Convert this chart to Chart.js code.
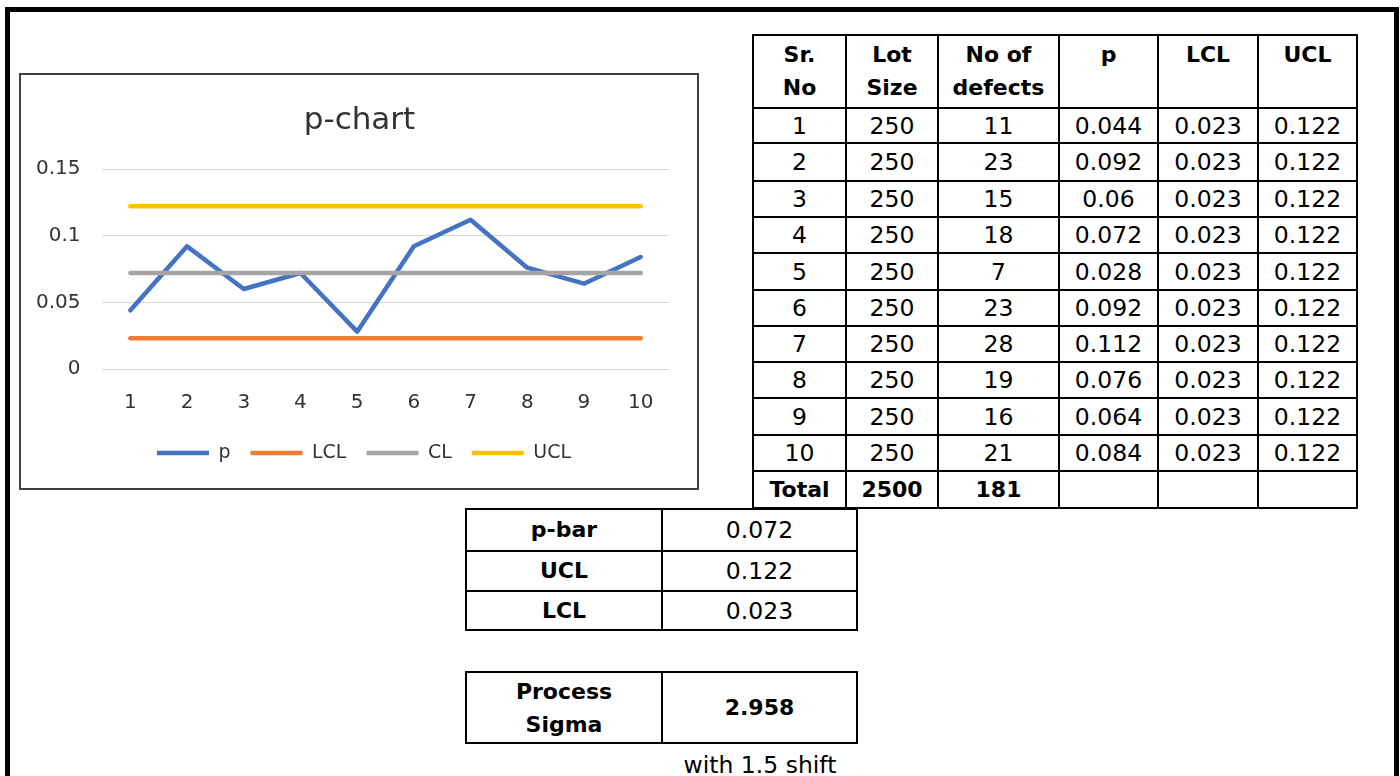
<!DOCTYPE html>
<html>
<head>
<meta charset="utf-8">
<script src="https://cdn.jsdelivr.net/npm/chart.js@4.4.0/dist/chart.umd.min.js"></script>
<style>
html,body{margin:0;padding:0;background:#fff;width:1400px;height:776px;overflow:hidden;}
body{position:relative;font-family:"DejaVu Sans",sans-serif;color:#000;}
#frame{position:absolute;left:5px;top:7px;width:1394px;height:900px;border:5px solid #000;box-sizing:border-box;}
#chartBox{position:absolute;left:19px;top:73px;width:680px;height:417px;border:2px solid #404040;box-sizing:border-box;background:#fff;}
#chartBox canvas{display:block;}
table{position:absolute;border-collapse:collapse;table-layout:fixed;}
td{border:2px solid #000;text-align:center;vertical-align:middle;padding:0;font-size:23.5px;line-height:28px;white-space:nowrap;}
td.b{font-weight:bold;font-size:22px;}
td.h{font-weight:bold;font-size:22px;vertical-align:top;line-height:33px;padding-top:2px;white-space:nowrap;}
#note{position:absolute;left:662px;top:750px;width:196px;height:30px;line-height:30px;text-align:center;font-size:23.5px;}
</style>
</head>
<body>
<div id="frame"></div>
<div id="chartBox"><canvas id="c" width="676" height="413"></canvas></div>
<table id="t1" style="left:752px;top:34px;width:606px;"></table>
<table id="t2" style="left:465px;top:508px;width:393px;"></table>
<table id="t3" style="left:465px;top:671px;width:393px;"></table>
<div id="note"></div>
<script>
// ---- chart data ----
const categories = ['1','2','3','4','5','6','7','8','9','10'];
const pValues   = [0.044, 0.092, 0.06, 0.072, 0.028, 0.092, 0.112, 0.076, 0.064, 0.084];
const lclValues = [0.023, 0.023, 0.023, 0.023, 0.023, 0.023, 0.023, 0.023, 0.023, 0.023];
const clValues  = [0.072, 0.072, 0.072, 0.072, 0.072, 0.072, 0.072, 0.072, 0.072, 0.072];
const uclValues = [0.122, 0.122, 0.122, 0.122, 0.122, 0.122, 0.122, 0.122, 0.122, 0.122];
const yTickLabels = ['0', '0.05', '0.1', '0.15'];
const seriesNames = ['p', 'LCL', 'CL', 'UCL'];

// ---- table data ----
const headers = [['Sr.', 'No'], ['Lot', 'Size'], ['No of', 'defects'], ['p'], ['LCL'], ['UCL']];
const srNo = ['1','2','3','4','5','6','7','8','9','10'];
const lotSizes = [250, 250, 250, 250, 250, 250, 250, 250, 250, 250];
const defects = [11, 23, 15, 18, 7, 23, 28, 19, 16, 21];
const pTable = ['0.044','0.092','0.06','0.072','0.028','0.092','0.112','0.076','0.064','0.084'];
const lclTable = ['0.023','0.023','0.023','0.023','0.023','0.023','0.023','0.023','0.023','0.023'];
const uclTable = ['0.122','0.122','0.122','0.122','0.122','0.122','0.122','0.122','0.122','0.122'];
const totalRow = ['Total', '2500', '181'];
const summaryLabels = ['p-bar', 'UCL', 'LCL'];
const summaryValues = ['0.072', '0.122', '0.023'];
const sigmaLabel = ['Process', 'Sigma'];
const sigmaValue = '2.958';
const sigmaNote = 'with 1.5 shift';

// ---- build tables ----
const colW = [93, 92, 121, 99, 100, 99];
const rowH = [35, 38, 36, 36, 37, 36, 36, 36, 37, 36];
let h = '<colgroup>' + colW.map(w => '<col style="width:' + w + 'px">').join('') + '</colgroup>';
h += '<tr style="height:73px">' + headers.map(t => '<td class="h">' + t.join('<br>') + '</td>').join('') + '</tr>';
for (let i = 0; i < srNo.length; i++) {
  h += '<tr style="height:' + rowH[i] + 'px"><td>' + srNo[i] + '</td><td>' + lotSizes[i] + '</td><td>' + defects[i] +
       '</td><td>' + pTable[i] + '</td><td>' + lclTable[i] + '</td><td>' + uclTable[i] + '</td></tr>';
}
h += '<tr style="height:37px">' + totalRow.map(t => '<td class="b">' + t + '</td>').join('') + '<td></td><td></td><td></td></tr>';
document.getElementById('t1').innerHTML = h;

const rh2 = [42, 40, 39];
let h2 = '<colgroup><col style="width:196px"><col style="width:195px"></colgroup>';
summaryLabels.forEach((l, i) => {
  h2 += '<tr style="height:' + rh2[i] + 'px"><td class="b">' + l + '</td><td>' + summaryValues[i] + '</td></tr>';
});
document.getElementById('t2').innerHTML = h2;

document.getElementById('t3').innerHTML =
  '<colgroup><col style="width:196px"><col style="width:195px"></colgroup>' +
  '<tr style="height:71px"><td class="b" style="line-height:33px">' + sigmaLabel.join('<br>') +
  '</td><td class="b">' + sigmaValue + '</td></tr>';
document.getElementById('note').textContent = sigmaNote;

// ---- chart ----
const FONT = 'DejaVu Sans';
const TXT = '#333333';
const colors = ['#4472C4', '#ED7D31', '#A5A5A5', '#FFC000'];
const seriesData = [pValues, lclValues, clValues, uclValues];

// shift title / legend horizontally so they are centred like the reference
const shiftPlugin = {
  id: 'shiftBlocks',
  afterLayout(chart) {
    const t = chart.titleBlock;
    if (t) { t.left = 29; t.width = t.right - t.left; }
    const l = chart.legend;
    if (l) { l.left = 38; l.width = l.right - l.left; }
  }
};

new Chart(document.getElementById('c'), {
  type: 'line',
  data: {
    labels: categories,
    datasets: seriesNames.map((n, i) => ({
      label: n,
      data: seriesData[i],
      borderColor: colors[i],
      backgroundColor: colors[i],
      borderWidth: 4.5,
      pointRadius: 0,
      pointHoverRadius: 0,
      tension: 0,
      borderCapStyle: 'round',
      borderJoinStyle: 'round',
      order: 4 - i
    }))
  },
  plugins: [shiftPlugin],
  options: {
    responsive: false,
    animation: false,
    devicePixelRatio: 1,
    layout: { padding: { left: 0, right: 28, top: 0, bottom: 15.5 } },
    plugins: {
      title: {
        display: true,
        text: 'p-chart',
        color: TXT,
        font: { family: FONT, size: 31, weight: 'normal' },
        padding: { top: 27.4, bottom: 29.4 }
      },
      legend: {
        position: 'bottom',
        labels: {
          usePointStyle: true,
          pointStyle: 'line',
          pointStyleWidth: 52,
          color: TXT,
          font: { family: FONT, size: 19 },
          padding: 20,
          sort: (a, b) => a.datasetIndex - b.datasetIndex
        }
      },
      tooltip: { enabled: false }
    },
    scales: {
      x: {
        type: 'category',
        offset: true,
        grid: { display: false, drawTicks: false },
        border: { display: false },
        ticks: { color: TXT, font: { family: FONT, size: 20 }, padding: 22, maxRotation: 0, autoSkip: false },
        afterFit: (s) => { s.height = 54.5; }
      },
      y: {
        min: 0,
        max: 0.15,
        grid: { color: '#D9D9D9', lineWidth: 1, drawTicks: false },
        border: { display: false },
        ticks: {
          stepSize: 0.05,
          color: TXT,
          font: { family: FONT, size: 20 },
          padding: 21.5,
          callback: (v, i) => yTickLabels[i]
        },
        afterFit: (s) => { s.width = 81; }
      }
    }
  }
});
</script>
</body>
</html>
